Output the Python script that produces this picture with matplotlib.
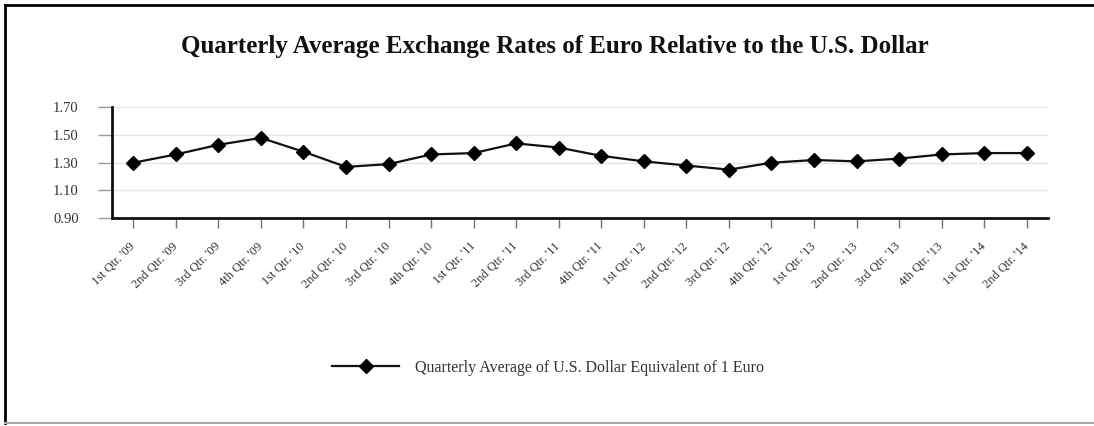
import matplotlib
matplotlib.use("Agg")
import matplotlib.pyplot as plt
from matplotlib.lines import Line2D

plt.rcParams['font.family'] = ['Liberation Serif', 'DejaVu Serif']

quarters = ["1st Qtr. '09", "2nd Qtr. '09", "3rd Qtr. '09", "4th Qtr. '09",
            "1st Qtr. '10", "2nd Qtr. '10", "3rd Qtr. '10", "4th Qtr. '10",
            "1st Qtr. '11", "2nd Qtr. '11", "3rd Qtr. '11", "4th Qtr. '11",
            "1st Qtr. '12", "2nd Qtr. '12", "3rd Qtr. '12", "4th Qtr. '12",
            "1st Qtr. '13", "2nd Qtr. '13", "3rd Qtr. '13", "4th Qtr. '13",
            "1st Qtr. '14", "2nd Qtr. '14"]
rates = [1.30, 1.36, 1.43, 1.48, 1.38, 1.27, 1.29, 1.36, 1.37, 1.44, 1.41,
         1.35, 1.31, 1.28, 1.25, 1.30, 1.32, 1.31, 1.33, 1.36, 1.37, 1.37]
yticks = [0.90, 1.10, 1.30, 1.50, 1.70]

W, H = 1094, 426
fig = plt.figure(figsize=(W / 100, H / 100), dpi=100)
ax = fig.add_axes([112 / W, 1 - 218 / H, (1048 - 112) / W, (218 - 107.5) / H])

x = list(range(len(rates)))
ax.plot(x, rates, color='#111111', lw=1.6, marker='D', ms=7.5,
        markerfacecolor='black', markeredgecolor='black', zorder=3,
        label="Quarterly Average of U.S. Dollar Equivalent of 1 Euro")

ax.set_xlim(-0.5, len(rates) - 0.5)
ax.set_ylim(0.90, 1.70)
ax.set_yticks(yticks)
ax.set_yticklabels(["%.2f" % v for v in yticks])
ax.set_xticks(x)
ax.set_xticklabels(quarters, rotation=45, ha='right', va='center',
                   rotation_mode='anchor')
ax.yaxis.grid(True, color='#e4e4e4', lw=1)
ax.set_axisbelow(True)

for s in ['top', 'right']:
    ax.spines[s].set_visible(False)
for s in ['left', 'bottom']:
    ax.spines[s].set_linewidth(2)
    ax.spines[s].set_color('#111111')

ax.tick_params(axis='y', length=10, width=1, color='#999999', labelsize=10.5,
               labelcolor='#333333', pad=14)
ax.tick_params(axis='x', length=7, width=1, color='#777777', labelsize=9,
               labelcolor='#333333', pad=12)

fig.text(555 / W, 1 - 47 / H,
         "Quarterly Average Exchange Rates of Euro Relative to the U.S. Dollar",
         ha='center', va='center', fontsize=18, fontweight='bold', color='#111111')

ax.legend(loc='center', bbox_to_anchor=(548 / W, 1 - 368 / H),
          bbox_transform=fig.transFigure, frameon=False, fontsize=11.5,
          handlelength=4.2, handletextpad=1.0, labelcolor='#333333')

# outer frame
fig.add_artist(Line2D([5 / W, 1], [1 - 5 / H, 1 - 5 / H], transform=fig.transFigure,
                      color='black', lw=2))
fig.add_artist(Line2D([5 / W, 5 / W], [1 - 5 / H, 1 - 423 / H], transform=fig.transFigure,
                      color='black', lw=2))
fig.add_artist(Line2D([5 / W, 1], [1 - 423 / H, 1 - 423 / H], transform=fig.transFigure,
                      color='#aaaaaa', lw=1.5))

fig.savefig("out.png", dpi=100)
